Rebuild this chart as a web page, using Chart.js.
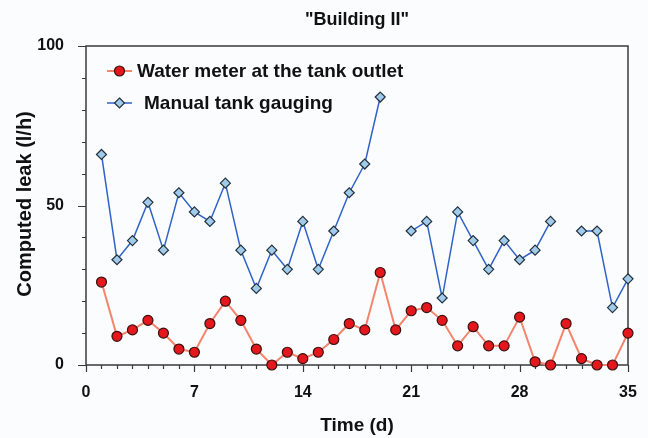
<!DOCTYPE html>
<html>
<head>
<meta charset="utf-8">
<script src="https://cdn.jsdelivr.net/npm/chart.js@4/dist/chart.umd.min.js"></script>
<style>
  html, body { margin: 0; padding: 0; background: #fbfcfe; }
  canvas { display: block; }
</style>
</head>
<body>
<canvas id="leak" width="648" height="438"></canvas>
<script>
// Daily computed leak for "Building II"
const days = [1, 2, 3, 4, 5, 6, 7, 8, 9, 10, 11, 12, 13, 14, 15, 16, 17, 18,
  19, 20, 21, 22, 23, 24, 25, 26, 27, 28, 29, 30, 31, 32, 33, 34, 35];
const waterMeter = [26, 9, 11, 14, 10, 5, 4, 13, 20, 14, 5, 0, 4, 2, 4, 8, 13, 11,
  29, 11, 17, 18, 14, 6, 12, 6, 6, 15, 1, 0, 13, 2, 0, 0, 10];
const tankGauging = [66, 33, 39, 51, 36, 54, 48, 45, 57, 36, 24, 36, 30, 45, 30, 42, 54, 63,
  84, null, 42, 45, 21, 48, 39, 30, 39, 33, 36, 45, null, 42, 42, 18, 27];
const seriesNames = ['Water meter at the tank outlet', 'Manual tank gauging'];
const xTickLabels = [0, 7, 14, 21, 28, 35];
const yTickLabels = [0, 50, 100];

const FONT = '"Liberation Sans", Arial, Helvetica, sans-serif';
const INK = '#111111';

const toPoints = vals => days.map((d, i) => ({ x: d, y: vals[i] }));

const decor = {
  id: 'decor',
  beforeDraw(chart) {
    const c = chart.ctx;
    c.save();
    c.fillStyle = '#fbfcfe';
    c.fillRect(0, 0, chart.width, chart.height);
    c.restore();
  },
  beforeDatasetsDraw(chart) {
    const c = chart.ctx, a = chart.chartArea;
    const xs = chart.scales.x, ys = chart.scales.y;
    c.save();
    c.strokeStyle = '#3a3a3a';
    c.lineWidth = 1.5;
    c.strokeRect(a.left, a.top, a.right - a.left, a.bottom - a.top);
    c.lineWidth = 1.2;
    c.beginPath();
    for (let v = 0; v <= 35; v++) {
      const px = Math.round(xs.getPixelForValue(v)) + 0.5;
      const len = xTickLabels.includes(v) ? 7 : 4;
      c.moveTo(px, a.bottom);
      c.lineTo(px, a.bottom + len);
    }
    for (let v = 0; v <= 100; v += 10) {
      const py = Math.round(ys.getPixelForValue(v)) + 0.5;
      const len = yTickLabels.includes(v) ? 8 : 4;
      c.moveTo(a.left, py);
      c.lineTo(a.left - len, py);
    }
    c.stroke();

    // chart and axis titles
    c.fillStyle = INK;
    c.textAlign = 'center';
    c.textBaseline = 'middle';
    c.font = 'bold 18px ' + FONT;
    c.fillText('"Building II"', (a.left + a.right) / 2, 20);
    c.font = 'bold 19px ' + FONT;
    c.fillText('Time (d)', (a.left + a.right) / 2, 426);
    c.save();
    c.translate(25, 204);
    c.rotate(-Math.PI / 2);
    c.font = 'bold 20px ' + FONT;
    c.fillText('Computed leak (l/h)', 0, 0);
    c.restore();
    c.restore();
  },
  afterDatasetsDraw(chart) {
    // legend inside the plot, upper left
    const c = chart.ctx;
    const rows = [
      { y: 71, textX: 137 },
      { y: 103, textX: 144 }
    ];
    c.save();
    chart.data.datasets.forEach((ds, i) => {
      const r = rows[i];
      c.strokeStyle = ds.borderColor;
      c.lineWidth = ds.borderWidth;
      c.beginPath();
      c.moveTo(107, r.y);
      c.lineTo(132, r.y);
      c.stroke();
      c.fillStyle = ds.pointBackgroundColor;
      c.strokeStyle = ds.pointBorderColor;
      c.lineWidth = ds.pointBorderWidth;
      const rad = ds.pointRadius;
      c.beginPath();
      if (ds.pointStyle === 'rectRot') {
        c.moveTo(119.5, r.y - rad);
        c.lineTo(119.5 + rad, r.y);
        c.lineTo(119.5, r.y + rad);
        c.lineTo(119.5 - rad, r.y);
        c.closePath();
      } else {
        c.arc(119.5, r.y, rad, 0, Math.PI * 2);
      }
      c.fill();
      c.stroke();
      c.fillStyle = INK;
      c.font = 'bold 19px ' + FONT;
      c.textAlign = 'left';
      c.textBaseline = 'middle';
      c.fillText(ds.label, r.textX, r.y + 1);
    });
    c.restore();
  }
};

new Chart(document.getElementById('leak'), {
  type: 'line',
  data: {
    datasets: [
      {
        label: seriesNames[0],
        data: toPoints(waterMeter),
        borderColor: '#f4846c',
        borderWidth: 2,
        pointStyle: 'circle',
        pointRadius: 5,
        pointBackgroundColor: '#e3171c',
        pointBorderColor: '#3a1010',
        pointBorderWidth: 1.2,
        tension: 0,
        clip: false
      },
      {
        label: seriesNames[1],
        data: toPoints(tankGauging),
        borderColor: '#3063c8',
        borderWidth: 1.5,
        pointStyle: 'rectRot',
        pointRadius: 5,
        pointBackgroundColor: '#a0cbea',
        pointBorderColor: '#23303c',
        pointBorderWidth: 1.2,
        tension: 0,
        spanGaps: false,
        clip: false
      }
    ]
  },
  options: {
    responsive: false,
    animation: false,
    devicePixelRatio: 1,
    layout: { padding: { top: 46, right: 20, left: 0, bottom: 0 } },
    plugins: { legend: { display: false }, title: { display: false }, tooltip: { enabled: false } },
    scales: {
      x: {
        type: 'linear',
        min: 0,
        max: 35,
        afterFit: s => { s.height = 73; },
        afterBuildTicks: s => { s.ticks = xTickLabels.map(v => ({ value: v })); },
        ticks: { color: INK, font: { family: FONT, size: 16, weight: 'bold' }, padding: 10, maxRotation: 0, autoSkip: false },
        grid: { display: false },
        border: { display: false }
      },
      y: {
        min: 0,
        max: 100,
        afterFit: s => { s.width = 86; },
        afterBuildTicks: s => { s.ticks = yTickLabels.map(v => ({ value: v })); },
        ticks: { color: INK, font: { family: FONT, size: 16, weight: 'bold' }, padding: 14 },
        grid: { display: false },
        border: { display: false }
      }
    }
  },
  plugins: [decor]
});
</script>
</body>
</html>
